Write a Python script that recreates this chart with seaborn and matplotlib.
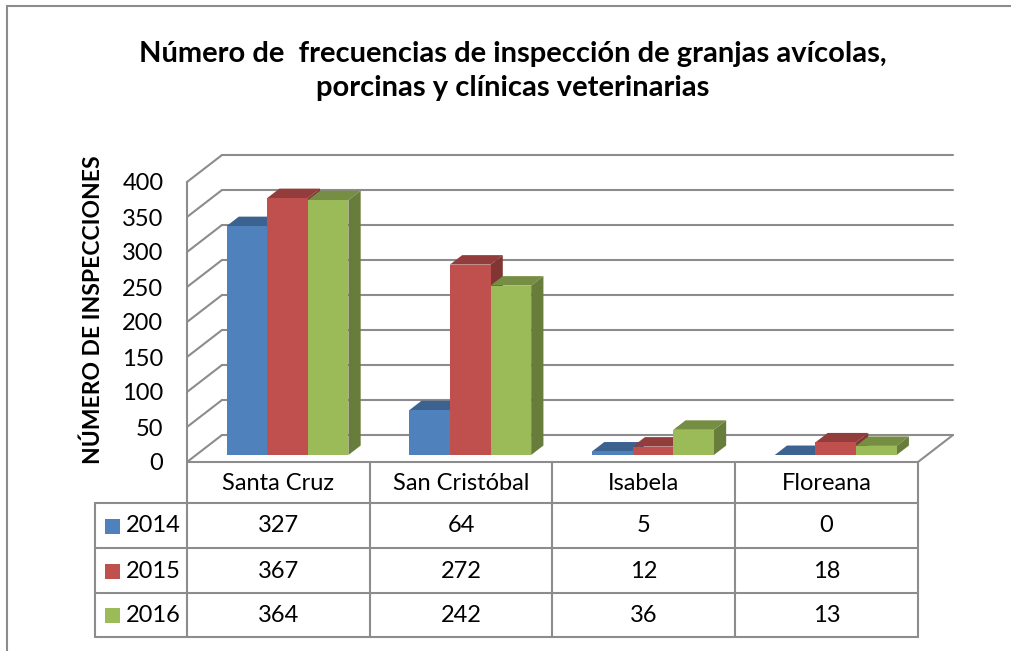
import matplotlib
matplotlib.use("Agg")
import matplotlib.pyplot as plt
import seaborn as sns
import pandas as pd
import numpy as np
from matplotlib.patches import Polygon, Rectangle
from matplotlib.colors import to_rgb

# datos
islas = ["Santa Cruz", "San Cristóbal", "Isabela", "Floreana"]
anios = ["2014", "2015", "2016"]
v2014 = [327, 64, 5, 0]
v2015 = [367, 272, 12, 18]
v2016 = [364, 242, 36, 13]
colores = ["#4F81BD", "#C0504D", "#9BBB59"]
yticks = [0, 50, 100, 150, 200, 250, 300, 350, 400]

titulo = "Número de  frecuencias de inspección de granjas avícolas,\nporcinas y clínicas veterinarias"
ylabel = "NÚMERO DE INSPECCIONES"

df = pd.DataFrame({
    "isla": islas * 3,
    "anio": [a for a in anios for _ in islas],
    "valor": v2014 + v2015 + v2016,
})

sns.set_style("white")
plt.rcParams["font.family"] = ["Lato", "DejaVu Sans"]
plt.rcParams["text.color"] = "black"
plt.rcParams["axes.labelcolor"] = "black"
plt.rcParams["ytick.labelcolor"] = "black"

W, H = 1011, 651
fig = plt.figure(figsize=(W / 100, H / 100), dpi=100)
ax = fig.add_axes([0, 0, 1, 1])

# escala en pixeles: categoria = 182.75 px, 1 unidad = 0.7 px
CW, VS = 182.75, 0.7
X0PX, Y0PX = 187, 462


def px2x(px):
    return (px - X0PX) / CW - 0.5


def py2y(py):
    return (Y0PX - py) / VS


# profundidad 3D (pared completa)
DX = 35 / CW
DY = 27 / VS
F0, F1 = 0.26, 0.61
GRIS = "#8c8c8c"

sns.barplot(data=df, x="isla", y="valor", hue="anio", palette=colores,
            width=0.667, saturation=1, ax=ax, legend=False, order=islas,
            hue_order=anios)

ax.set_xlim(px2x(0), px2x(W))
ax.set_ylim(py2y(H), py2y(0))

# paredes y cuadricula
for v in yticks:
    ax.plot([-0.5 + DX, 3.5 + DX], [v + DY, v + DY], color=GRIS, lw=1.5, zorder=1)
    ax.plot([-0.5, -0.5 + DX], [v, v + DY], color=GRIS, lw=1.5, zorder=1)
ax.plot([-0.5, -0.5], [0, 400], color=GRIS, lw=1.5, zorder=1)
ax.plot([3.5, 3.5 + DX], [0, DY], color=GRIS, lw=1.5, zorder=1)

# barras en 3D
barras = sorted([p for p in ax.patches if isinstance(p, Rectangle)], key=lambda p: p.get_x())
for i, p in enumerate(barras):
    x0, w, h = p.get_x(), p.get_width(), p.get_height()
    c = np.array(to_rgb(p.get_facecolor()))
    xs = x0 + F0 * DX
    y0 = F0 * DY
    bx, by = (F1 - F0) * DX, (F1 - F0) * DY
    p.set_x(xs)
    p.set_y(y0)
    p.set_linewidth(0)
    z = 3 + i * 0.1
    p.set_zorder(z + 0.02)
    top = Polygon([(xs, y0 + h), (xs + w, y0 + h), (xs + w + bx, y0 + h + by), (xs + bx, y0 + h + by)],
                  closed=True, facecolor=c * 0.76, lw=0, zorder=z)
    side = Polygon([(xs + w, y0), (xs + w + bx, y0 + by), (xs + w + bx, y0 + h + by), (xs + w, y0 + h)],
                   closed=True, facecolor=c * 0.67, lw=0, zorder=z + 0.01)
    ax.add_patch(top)
    ax.add_patch(side)

# eje y
ax.spines["left"].set_position(("data", -0.5))
for s in ax.spines.values():
    s.set_visible(False)
ax.set_yticks(yticks)
ax.set_yticklabels([str(t) for t in yticks])
ax.tick_params(axis="y", length=0, pad=17, labelsize=17, labelcolor="black")
ax.set_xticks([])
ax.set_xlabel("")
ax.set_ylabel(ylabel, fontsize=16.5, fontweight="bold", color="black")
ax.yaxis.set_label_coords(px2x(104), py2y(310), transform=ax.transData)

# tabla de datos
lw = 1.5
ax.plot([px2x(187), px2x(918)], [py2y(462)] * 2, color=GRIS, lw=lw, zorder=2)
for py in [503, 548, 593, 637]:
    ax.plot([px2x(95), px2x(918)], [py2y(py)] * 2, color=GRIS, lw=lw, zorder=2)
ax.plot([px2x(95)] * 2, [py2y(503), py2y(637)], color=GRIS, lw=lw, zorder=2)
for i in range(5):
    ax.plot([i - 0.5] * 2, [py2y(462), py2y(637)], color=GRIS, lw=lw, zorder=2)

filas = [483, 526, 571, 615]
for i, isla in enumerate(islas):
    ax.text(i, py2y(filas[0]), isla, ha="center", va="center", fontsize=17, color="black")
for r, (anio, vals, col) in enumerate(zip(anios, [v2014, v2015, v2016], colores)):
    yc = py2y(filas[r + 1])
    ax.add_patch(Rectangle((px2x(105), yc - 7.5 / VS), 15 / CW, 15 / VS, facecolor=col, lw=0))
    ax.text(px2x(126), yc, anio, ha="left", va="center", fontsize=17, color="black")
    for i, v in enumerate(vals):
        ax.text(i, yc, str(v), ha="center", va="center", fontsize=17, color="black")

# titulo
fig.text(0.507, 1 - 41 / H, titulo, ha="center", va="top", fontsize=21,
         fontweight="bold", linespacing=1.38, color="black")

# borde del grafico
fig.patches.append(Rectangle((7 / W, -0.1), 1.2, 1.1 - 6 / H, transform=fig.transFigure,
                             fill=False, edgecolor=GRIS, lw=1.5))

fig.savefig("out.png", dpi=100, facecolor="white")
